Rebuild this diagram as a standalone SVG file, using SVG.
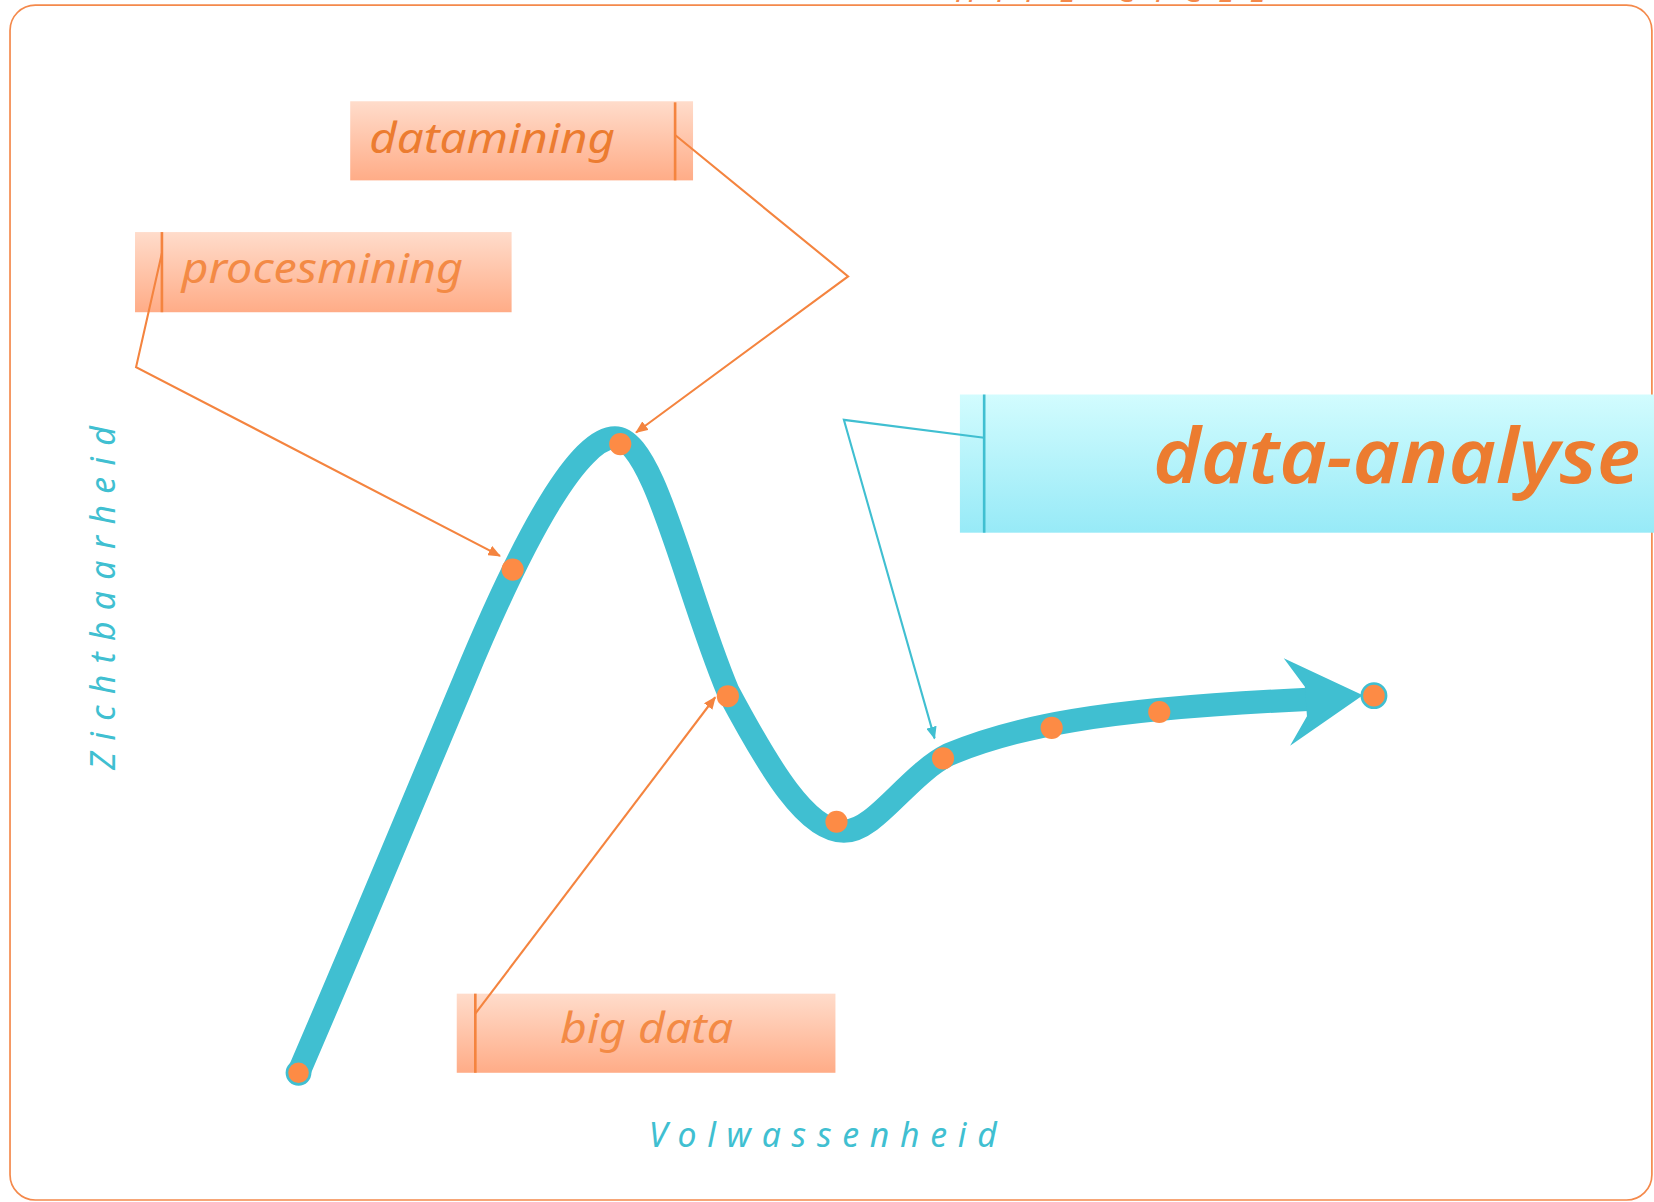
<svg xmlns="http://www.w3.org/2000/svg" width="1654" height="1202" viewBox="0 0 1654 1202">
<defs>
<style>
.lbl{font-family:"Noto Sans","DejaVu Sans",sans-serif;font-style:italic;}
.otext{fill:#F38A45;}
.dtext{fill:#EC7C30;}
.axis{font-family:"Noto Sans","DejaVu Sans",sans-serif;font-style:italic;fill:#40BFD1;}
.con{fill:none;stroke:#F4843F;stroke-width:2;}
.ccon{fill:none;stroke:#40BFD1;stroke-width:2;}
.bar{stroke:#F4843F;stroke-width:2.5;}
.cbar{stroke:#40BFD1;stroke-width:2.5;}
.dot{fill:#FD8B45;}
</style>
<linearGradient id="og" x1="0" y1="0" x2="0" y2="1">
<stop offset="0" stop-color="#FFDCCB"/>
<stop offset="1" stop-color="#FFAC87"/>
</linearGradient>
<linearGradient id="cg" x1="0" y1="0" x2="0" y2="1">
<stop offset="0" stop-color="#D2FCFE"/>
<stop offset="1" stop-color="#97EAF7"/>
</linearGradient>
<marker id="ao" viewBox="0 0 12 10" refX="11" refY="5" markerWidth="12" markerHeight="10" markerUnits="userSpaceOnUse" orient="auto">
<path d="M0,0 L12,5 L0,10 Z" fill="#F4843F"/>
</marker>
<marker id="ac" viewBox="0 0 12 10" refX="11" refY="5" markerWidth="12" markerHeight="10" markerUnits="userSpaceOnUse" orient="auto">
<path d="M0,0 L12,5 L0,10 Z" fill="#40BFD1"/>
</marker>
</defs>
<rect width="1654" height="1202" fill="#FFFFFF"/>
<g transform="scale(1.05485)">
<g id="frame">
<rect x="9.5" y="4.8" width="1556.5" height="1132.8" rx="24" fill="none" stroke="#F4894B" stroke-width="1.6"/>
<text x="905" y="2" class="lbl" font-style="normal" font-size="30" fill="#F4894B" textLength="295" lengthAdjust="spacing">HYPE CYCLE</text>
</g>
<g id="curve">
<path d="M283,1017 C340,885 400,740 440,645 C500,500 550,415 583,415 C620,415 650,560 690,655 C730,730 765,788 800,788 C830,788 860,735 900,715 C960,690 1040,672 1240,663" fill="none" stroke="#40BFD1" stroke-width="22" stroke-linecap="round"/>
<polygon points="1292,659 1217,624 1237,651 1239,679 1223,707" fill="#40BFD1"/>
</g>
<g id="dots">
<circle cx="283" cy="1017" r="11" class="dot" stroke="#40BFD1" stroke-width="2.5"/>
<circle cx="486" cy="540" r="10.5" class="dot"/>
<circle cx="588" cy="421" r="10.5" class="dot"/>
<circle cx="690" cy="660" r="10.5" class="dot"/>
<circle cx="793" cy="779" r="10.5" class="dot"/>
<circle cx="894" cy="719" r="10.5" class="dot"/>
<circle cx="997" cy="690" r="10.5" class="dot"/>
<circle cx="1099" cy="675" r="10.5" class="dot"/>
<circle cx="1302.5" cy="659.5" r="11.5" class="dot" stroke="#40BFD1" stroke-width="2.5"/>
</g>
<g id="node-datamining">
<rect x="332" y="96" width="325" height="75" fill="url(#og)"/>
<line x1="640" y1="97" x2="640" y2="171" class="bar"/>
<text x="350" y="145" class="lbl dtext" font-size="40" textLength="233" lengthAdjust="spacingAndGlyphs">datamining</text>
</g>
<g id="node-procesmining">
<rect x="128" y="220" width="357" height="76" fill="url(#og)"/>
<line x1="153.5" y1="220" x2="153.5" y2="296" class="bar"/>
<text x="172" y="268" class="lbl otext" font-size="40" textLength="267" lengthAdjust="spacingAndGlyphs">procesmining</text>
</g>
<g id="node-bigdata">
<rect x="433" y="942" width="359" height="75" fill="url(#og)"/>
<line x1="450.6" y1="942" x2="450.6" y2="1017" class="bar"/>
<text x="531" y="989" class="lbl otext" font-size="40" textLength="164" lengthAdjust="spacingAndGlyphs">big data</text>
</g>
<g id="node-data-analyse">
<rect x="910" y="374" width="700" height="131" fill="url(#cg)"/>
<line x1="933" y1="374" x2="933" y2="505" class="cbar"/>
<text x="1093" y="458" class="lbl dtext" font-size="72" font-weight="600" textLength="462" lengthAdjust="spacingAndGlyphs">data-analyse</text>
</g>
<g id="connectors">
<polyline class="con" points="640,128 804,262 603,410" marker-end="url(#ao)"/>
<polyline class="con" points="153.5,240 129,348 474,527" marker-end="url(#ao)"/>
<polyline class="con" points="450.6,961 678,661" marker-end="url(#ao)"/>
<polyline class="ccon" points="933,415 800,398 886,700" marker-end="url(#ac)"/>
</g>
<g id="axes">
<text x="615" y="1087" class="axis" font-size="32" textLength="330" lengthAdjust="spacing">Volwassenheid</text>
<text transform="translate(109,730) rotate(-90)" class="axis" font-size="32" textLength="326" lengthAdjust="spacing">Zichtbaarheid</text>
</g>
</g>
</svg>
